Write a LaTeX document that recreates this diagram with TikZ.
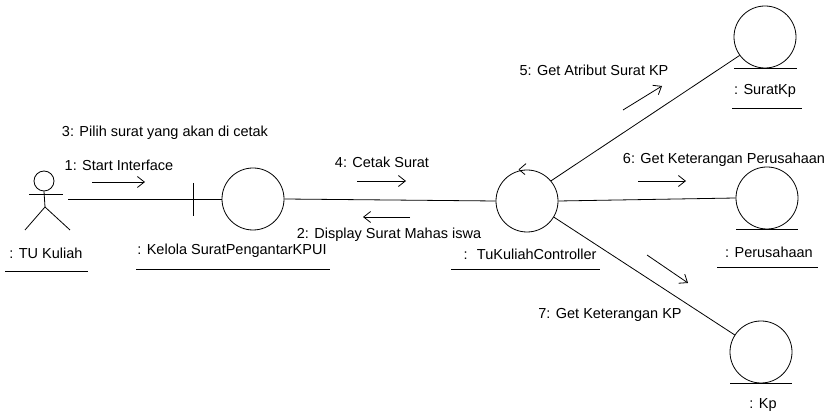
\documentclass[tikz,border=0pt]{standalone}
\usepackage{fontspec}
\setmainfont{Liberation Sans}
\usetikzlibrary{arrows.meta}
\tikzset{
  obj/.style={draw, circle, minimum size=62pt, inner sep=0pt},
  conn/.style={draw},
  msg/.style={draw, -{Straight Barb[length=7pt,width=11pt]}},
  lbl/.style={font=\fontsize{14.5}{16}\selectfont, inner sep=1pt},
  uline/.style={draw}
}
\begin{document}
\begin{tikzpicture}[x=1pt,y=-1pt,line width=0.8pt]
  \useasboundingbox (0,0) rectangle (833,419);

  % actor
  \node[draw, circle, minimum size=20pt, inner sep=0pt] (head) at (44,181) {};
  \draw (head.south) -- (45,207) coordinate (hip);
  \draw (29,194) -- (63,194);
  \draw (25,230) -- (hip) -- (70,230);
  \coordinate (actor) at (68,199);
  \node[lbl] (actorlbl) at (46,253) {: TU Kuliah};
  \draw[uline] (5,271) -- (88,271);

  % boundary
  \node[obj] (kelola) at (253,199) {};
  \coordinate (kelolabar) at (193,199);
  \draw (193,183) -- (193,216);
  \draw[conn] (kelolabar) -- (kelola.west);
  \node[lbl] (kelolalbl) at (232,251) {: Kelola SuratPengantarKPUI};
  \draw[uline] (136,269) -- (330,269);

  % controller
  \node[obj] (ctrl) at (527,201) {};
  \draw (ctrl.north) ++(-8,0) -- ++(7,-6);
  \draw (ctrl.north) ++(-8,0) -- ++(6,5);
  \node[lbl] (ctrllbl) at (530,254) {: \ TuKuliahController};
  \draw[uline] (451,269) -- (600,269);

  % entities
  \node[obj] (suratkp) at (765,37) {};
  \draw (suratkp.south) ++(-31,0) -- ++(63,0);
  \node[lbl] (suratkplbl) at (765,91) {: SuratKp};
  \draw[uline] (732,108) -- (802,108);

  \node[obj] (perusahaan) at (767,198) {};
  \draw (perusahaan.south) ++(-31,0) -- ++(62,0);
  \node[lbl] (perusahaanlbl) at (769,252) {: Perusahaan};
  \draw[uline] (717,267) -- (818,267);

  \node[obj] (kp) at (761,352) {};
  \draw (kp.south) ++(-31,0) -- ++(62,0);
  \node[lbl] (kplbl) at (763,405) {: Kp};

  % links
  \draw[conn] (actor) -- (kelolabar);
  \draw[conn] (kelola.east) -- (ctrl.west);
  \draw[conn] (ctrl.40) -- (suratkp.216);
  \draw[conn] (ctrl.east) -- (perusahaan.west);
  \draw[conn] (ctrl.-31) -- (kp.147);

  % messages
  \node[lbl] (m3) at (165,133) {3: Pilih surat yang akan di cetak};
  \node[lbl] (m1) at (119,165) {1: Start Interface};
  \coordinate (m1a) at (92,182); \coordinate (m1b) at (145,182);
  \draw[msg] (m1a) -- (m1b);

  \node[lbl] (m4) at (382,162) {4: Cetak Surat};
  \coordinate (m4a) at (357,181); \coordinate (m4b) at (406,181);
  \draw[msg] (m4a) -- (m4b);

  \node[lbl] (m2) at (389,235) {2: Display Surat Mahas iswa};
  \coordinate (m2a) at (410,217); \coordinate (m2b) at (363,217);
  \draw[msg] (m2a) -- (m2b);

  \node[lbl] (m5) at (594,70) {5: Get Atribut Surat KP};
  \coordinate (m5a) at (623,110); \coordinate (m5b) at (662,86);
  \draw[msg] (m5a) -- (m5b);

  \node[lbl] (m6) at (724,160) {6: Get Keterangan Perusahaan};
  \coordinate (m6a) at (638,181); \coordinate (m6b) at (686,181);
  \draw[msg] (m6a) -- (m6b);

  \node[lbl] (m7) at (610,315) {7: Get Keterangan KP};
  \coordinate (m7a) at (647,255); \coordinate (m7b) at (688,283);
  \draw[msg] (m7a) -- (m7b);
\end{tikzpicture}
\end{document}
